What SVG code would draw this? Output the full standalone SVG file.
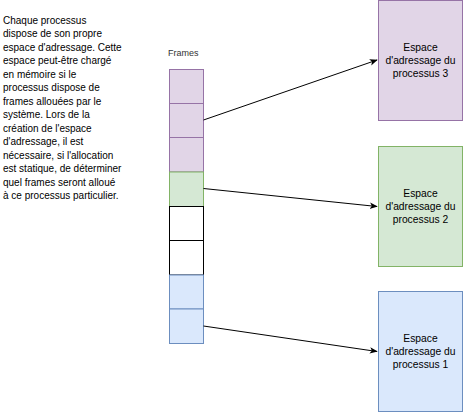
<svg xmlns="http://www.w3.org/2000/svg" width="464" height="412" viewBox="0 0 464 412">
<defs>
<style>
.t{font-family:"Liberation Sans",Arial,sans-serif;fill:#000}
.note{font-size:10px}
.lbl{font-size:10.3px;text-anchor:middle}
.fr{font-size:9px;fill:#333}
.pu{fill:#e1d5e7;stroke:#9673a6;stroke-width:1}
.gr{fill:#d5e8d4;stroke:#82b366;stroke-width:1}
.bl{fill:#dae8fc;stroke:#6c8ebf;stroke-width:1}
.wh{fill:#fff;stroke:#000;stroke-width:1}
.edge{fill:none;stroke:#000;stroke-width:1}
</style>
<marker id="arr" viewBox="0 0 10 10" refX="9" refY="5" markerWidth="8" markerHeight="8" markerUnits="userSpaceOnUse" orient="auto">
<path d="M0,1 L10,5 L0,9 L2.5,5 Z" fill="#000"/>
</marker>
</defs>
<rect width="464" height="412" fill="#fff"/>
<g id="note">
<text class="t note" x="3" y="23.5">
<tspan x="3" dy="0">Chaque processus</tspan>
<tspan x="3" dy="13.5">dispose de son propre</tspan>
<tspan x="3" dy="13.5">espace d'adressage. Cette</tspan>
<tspan x="3" dy="13.5">espace peut-être chargé</tspan>
<tspan x="3" dy="13.5">en mémoire si le</tspan>
<tspan x="3" dy="13.5">processus dispose de</tspan>
<tspan x="3" dy="13.5">frames allouées par le</tspan>
<tspan x="3" dy="13.5">système. Lors de la</tspan>
<tspan x="3" dy="13.5">création de l'espace</tspan>
<tspan x="3" dy="13.5">d'adressage, il est</tspan>
<tspan x="3" dy="13.5">nécessaire, si l'allocation</tspan>
<tspan x="3" dy="13.5">est statique, de déterminer</tspan>
<tspan x="3" dy="13.5">quel frames seront alloué</tspan>
<tspan x="3" dy="13.5">à ce processus particulier.</tspan>
</text>
</g>
<g id="frames">
<text class="t fr" x="168" y="56">Frames</text>
<rect class="pu" x="169.5" y="69.5" width="34" height="34"/>
<rect class="pu" x="169.5" y="103.5" width="34" height="34"/>
<rect class="pu" x="169.5" y="137.5" width="34" height="34.5"/>
<rect class="gr" x="169.5" y="172" width="34" height="34.5"/>
<rect class="wh" x="169.5" y="206.5" width="34" height="34"/>
<rect class="wh" x="169.5" y="240.5" width="34" height="34.5"/>
<rect class="bl" x="169.5" y="275" width="34" height="34"/>
<rect class="bl" x="169.5" y="309" width="34" height="34.5"/>
</g>
<g id="proc3">
<rect class="pu" x="378.5" y="0.5" width="84" height="120"/>
<text class="t lbl" x="420.5" y="50.5">Espace</text>
<text class="t lbl" x="420.5" y="63.5">d'adressage du</text>
<text class="t lbl" x="420.5" y="76.5">processus 3</text>
</g>
<g id="proc2">
<rect class="gr" x="378.5" y="146.5" width="84" height="120"/>
<text class="t lbl" x="420.5" y="196.5">Espace</text>
<text class="t lbl" x="420.5" y="209.5">d'adressage du</text>
<text class="t lbl" x="420.5" y="222.5">processus 2</text>
</g>
<g id="proc1">
<rect class="bl" x="378.5" y="291.5" width="84" height="120"/>
<text class="t lbl" x="420.5" y="341.5">Espace</text>
<text class="t lbl" x="420.5" y="354.5">d'adressage du</text>
<text class="t lbl" x="420.5" y="367.5">processus 1</text>
</g>
<g id="connectors">
<path class="edge" d="M203.5,120 L377,60" marker-end="url(#arr)"/>
<path class="edge" d="M203.5,188.5 L377,206.5" marker-end="url(#arr)"/>
<path class="edge" d="M203.5,326 L377,351.5" marker-end="url(#arr)"/>
</g>
</svg>
